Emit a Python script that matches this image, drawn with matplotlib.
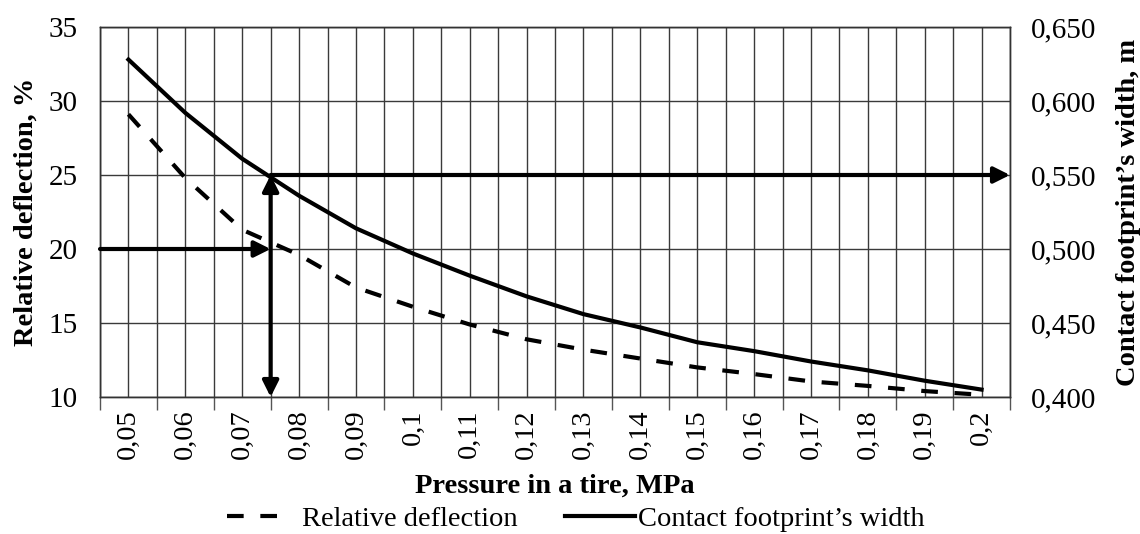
import numpy as np
import matplotlib
matplotlib.use("Agg")
import matplotlib.pyplot as plt
from matplotlib.ticker import FuncFormatter

plt.rcParams['font.family'] = ['Liberation Serif', 'DejaVu Serif']

# data
pressure = ['0,05', '0,06', '0,07', '0,08', '0,09', '0,1', '0,11', '0,12', '0,13',
            '0,14', '0,15', '0,16', '0,17', '0,18', '0,19', '0,2']
deflection = [29.1, 24.8, 21.3, 19.6, 17.4, 16.1, 14.9, 13.9, 13.2,
              12.6, 12.0, 11.55, 11.05, 10.75, 10.4, 10.15]
width = [0.628, 0.592, 0.561, 0.536, 0.514, 0.497, 0.482, 0.468, 0.456,
         0.447, 0.437, 0.431, 0.424, 0.418, 0.411, 0.405]

# construction lines: deflection 20 % -> pressure between 0,07 and 0,08 -> width 0,550
pick_x = 2.5
pick_defl = 20
pick_low = 10
pick_width_defl = 25

fs = 20.5
x = np.arange(len(pressure))

fig = plt.figure(figsize=(11.4, 5.34), dpi=100)
ax = fig.add_axes([100/1140, 1 - 397/534, 910/1140, 370/534])
ax2 = ax.twinx()

ax.set_xlim(-0.5, len(pressure) - 0.5)
ax.set_ylim(10, 35)
ax.set_yticks([10, 15, 20, 25, 30, 35])
ax2.set_ylim(0.4, 0.65)
ax2.set_yticks([0.4, 0.45, 0.5, 0.55, 0.6, 0.65])
ax2.yaxis.set_major_formatter(FuncFormatter(lambda v, p: ('%.3f' % v).replace('.', ',')))

ax.set_xticks(x)
ax.set_xticklabels(pressure, rotation=90, fontsize=fs)
ax.set_xticks(np.arange(-0.5, len(pressure)), minor=True)
ax.tick_params(axis='x', which='major', length=0, pad=9)
ax.tick_params(axis='x', which='minor', length=9, width=1, color='#555555', direction='out')
ax.tick_params(axis='y', length=0, pad=16, labelsize=21)
ax2.tick_params(axis='y', length=0, pad=15, labelsize=21)

ax.grid(which='both', axis='x', color='#3a3a3a', lw=1)
ax.grid(which='major', axis='y', color='#3a3a3a', lw=1)
ax.set_axisbelow(True)
for sp in list(ax.spines.values()) + list(ax2.spines.values()):
    sp.set_color('#333333')
    sp.set_linewidth(1)

l1, = ax.plot(x, deflection, color='black', lw=3, dashes=(4, 4),
              label='Relative deflection')
l2, = ax2.plot(x, width, color='black', lw=3, label='Contact footprint\u2019s width')

arr = dict(color='black', lw=3, shrinkA=0, shrinkB=0, mutation_scale=24)
ax2.annotate('', xy=(pick_x, pick_defl), xytext=(-0.5, pick_defl),
             xycoords=ax.transData, textcoords=ax.transData,
             arrowprops=dict(arrowstyle='-|>', **arr))
ax2.annotate('', xy=(pick_x, pick_low), xytext=(pick_x, pick_width_defl),
             xycoords=ax.transData, textcoords=ax.transData,
             arrowprops=dict(arrowstyle='<|-|>', **arr))
ax2.annotate('', xy=(len(pressure) - 0.5, pick_width_defl), xytext=(pick_x, pick_width_defl),
             xycoords=ax.transData, textcoords=ax.transData,
             arrowprops=dict(arrowstyle='-|>', **arr))

ax.set_xlabel('Pressure in a tire, MPa', fontsize=fs, fontweight='bold', labelpad=10)
ax.set_ylabel('Relative deflection, %', fontsize=fs, fontweight='bold', labelpad=7)
ax2.set_ylabel('Contact footprint\u2019s width, m', fontsize=fs, fontweight='bold', labelpad=14)

# two legend entries placed separately, like the original's uneven spacing
leg_kw = dict(loc='center left', frameon=False, fontsize=fs, borderpad=0, borderaxespad=0)
leg1 = fig.legend(handles=[l1], bbox_to_anchor=(227/1140, 1 - 519/534),
                  handlelength=1.86, handletextpad=0.77, **leg_kw)
fig.legend(handles=[l2], bbox_to_anchor=(565/1140, 1 - 519/534),
           handlelength=2.46, handletextpad=0.1, **leg_kw)

fig.savefig('out.png', dpi=100)
